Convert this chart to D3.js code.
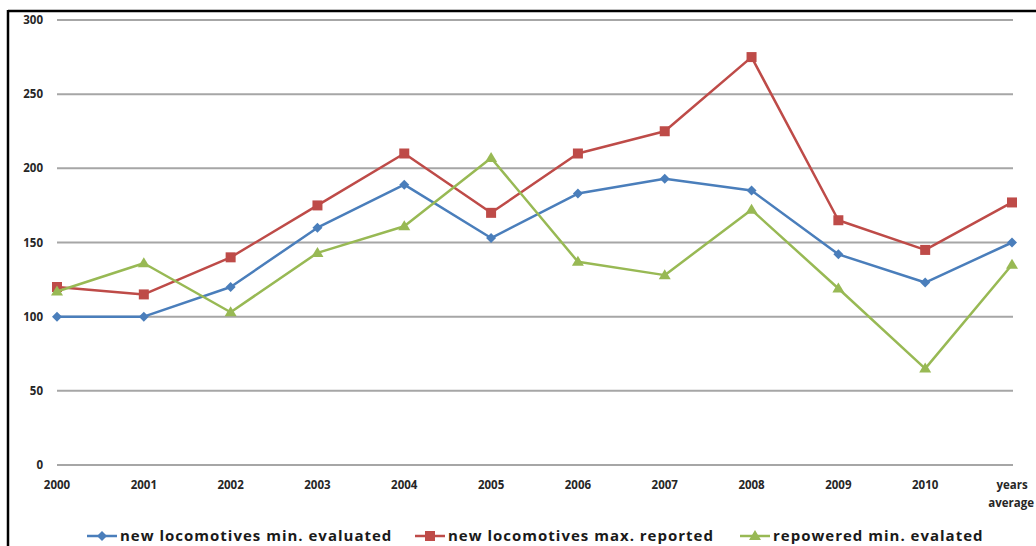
<!DOCTYPE html>
<html lang="en">
<head>
<meta charset="UTF-8">
<title>locomotives chart</title>
<script src="https://cdnjs.cloudflare.com/ajax/libs/d3/7.8.5/d3.min.js"></script>
<style>
    * { margin: 0; padding: 0; }
    body { background: #fff; width: 1036px; height: 546px; overflow: hidden; }
    svg { display: block; font-family: "Open Sans", "Noto Sans", sans-serif; }
    .grid line { stroke: #a6a6a6; stroke-width: 2; }
    .tick-label { font-size: 11.5px; font-weight: bold; fill: #262626; }
    .legend-label { font-size: 15px; font-weight: bold; fill: #1a1a1a; letter-spacing: 1px; }
</style>
</head>
<body>
<div id="chart"></div>
<script>
    // categories along the x axis
    var years = ["2000", "2001", "2002", "2003", "2004", "2005", "2006", "2007", "2008", "2009", "2010", "years average"];
    var yTicks = [0, 50, 100, 150, 200, 250, 300];

    // series values
    var minEvaluated = [100, 100, 120, 160, 189, 153, 183, 193, 185, 142, 123, 150];
    var maxReported  = [120, 115, 140, 175, 210, 170, 210, 225, 275, 165, 145, 177];
    var repoweredMin = [117, 136, 103, 143, 161, 207, 137, 128, 172, 119, 65, 135];

    var seriesNames = ["new locomotives min. evaluated", "new locomotives max. reported", "repowered min. evalated"];
    var seriesColors = ["#4a7ebb", "#be4b48", "#98b954"];
    var seriesValues = [minEvaluated, maxReported, repoweredMin];

    var width = 1036, height = 546;

    var svg = d3.select("#chart").append("svg")
        .attr("width", width)
        .attr("height", height);

    // frame (only top and left are visible in the crop)
    svg.append("line").attr("x1", 8).attr("x2", width).attr("y1", 11).attr("y2", 11)
        .attr("stroke", "#000").attr("stroke-width", 2.5);
    svg.append("line").attr("x1", 8).attr("x2", 8).attr("y1", 10).attr("y2", height)
        .attr("stroke", "#000").attr("stroke-width", 2.5);

    var x = d3.scalePoint()
        .domain(years)
        .range([57, 1012]);

    var y = d3.scaleLinear()
        .domain([0, 300])
        .range([465, 20]);

    // horizontal gridlines
    svg.append("g").attr("class", "grid")
        .selectAll("line")
        .data(yTicks)
        .enter().append("line")
        .attr("x1", 57)
        .attr("x2", 1013)
        .attr("y1", function(d) { return y(d); })
        .attr("y2", function(d) { return y(d); });

    // y tick labels
    svg.append("g")
        .selectAll("text")
        .data(yTicks)
        .enter().append("text")
        .attr("class", "tick-label")
        .attr("x", 43)
        .attr("y", function(d) { return y(d) + 4; })
        .attr("text-anchor", "end")
        .text(function(d) { return d; });

    // x tick labels, last one wraps on two lines
    var xl = svg.append("g")
        .selectAll("text")
        .data(years)
        .enter().append("text")
        .attr("class", "tick-label")
        .attr("x", function(d) { return x(d); })
        .attr("y", 489)
        .attr("text-anchor", "middle");
    xl.each(function(d) {
        var words = d.split(" ");
        var t = d3.select(this);
        if (words.length === 1) {
            t.text(d);
            return;
        }
        // wrapped label at the right edge
        t.attr("text-anchor", null);
        t.append("tspan").attr("x", x(d)).attr("text-anchor", "middle").text(words[0]);
        t.append("tspan").attr("x", width - 2).attr("dy", 18).attr("text-anchor", "end").text(words[1]);
    });

    var line = d3.line()
        .x(function(d, i) { return x(years[i]); })
        .y(function(d) { return y(d); });

    function drawMarker(g, kind, cx, cy, color) {
        if (kind === 0) {
            g.append("path")
                .attr("d", "M" + cx + "," + (cy - 5) + "L" + (cx + 5) + "," + cy + "L" + cx + "," + (cy + 5) + "L" + (cx - 5) + "," + cy + "Z")
                .attr("fill", color);
        } else if (kind === 1) {
            g.append("rect")
                .attr("x", cx - 5).attr("y", cy - 5)
                .attr("width", 10).attr("height", 10)
                .attr("fill", color);
        } else {
            g.append("path")
                .attr("d", "M" + cx + "," + (cy - 6) + "L" + (cx + 6) + "," + (cy + 4) + "L" + (cx - 6) + "," + (cy + 4) + "Z")
                .attr("fill", color);
        }
    }

    seriesValues.forEach(function(vals, s) {
        var g = svg.append("g");
        g.append("path")
            .datum(vals)
            .attr("d", line)
            .attr("fill", "none")
            .attr("stroke", seriesColors[s])
            .attr("stroke-width", 2.5)
            .attr("stroke-linejoin", "round");
        vals.forEach(function(v, i) {
            drawMarker(g, s, x(years[i]), y(v), seriesColors[s]);
        });
    });

    // legend
    var legendX = [87, 415, 740];
    var legend = svg.append("g");
    seriesNames.forEach(function(name, s) {
        var lx = legendX[s], ly = 536;
        legend.append("line")
            .attr("x1", lx).attr("x2", lx + 30)
            .attr("y1", ly).attr("y2", ly)
            .attr("stroke", seriesColors[s]).attr("stroke-width", 2.5);
        drawMarker(legend, s, lx + 15, ly, seriesColors[s]);
        legend.append("text")
            .attr("class", "legend-label")
            .attr("x", lx + 33)
            .attr("y", ly + 5)
            .text(name);
    });
</script>
</body>
</html>
